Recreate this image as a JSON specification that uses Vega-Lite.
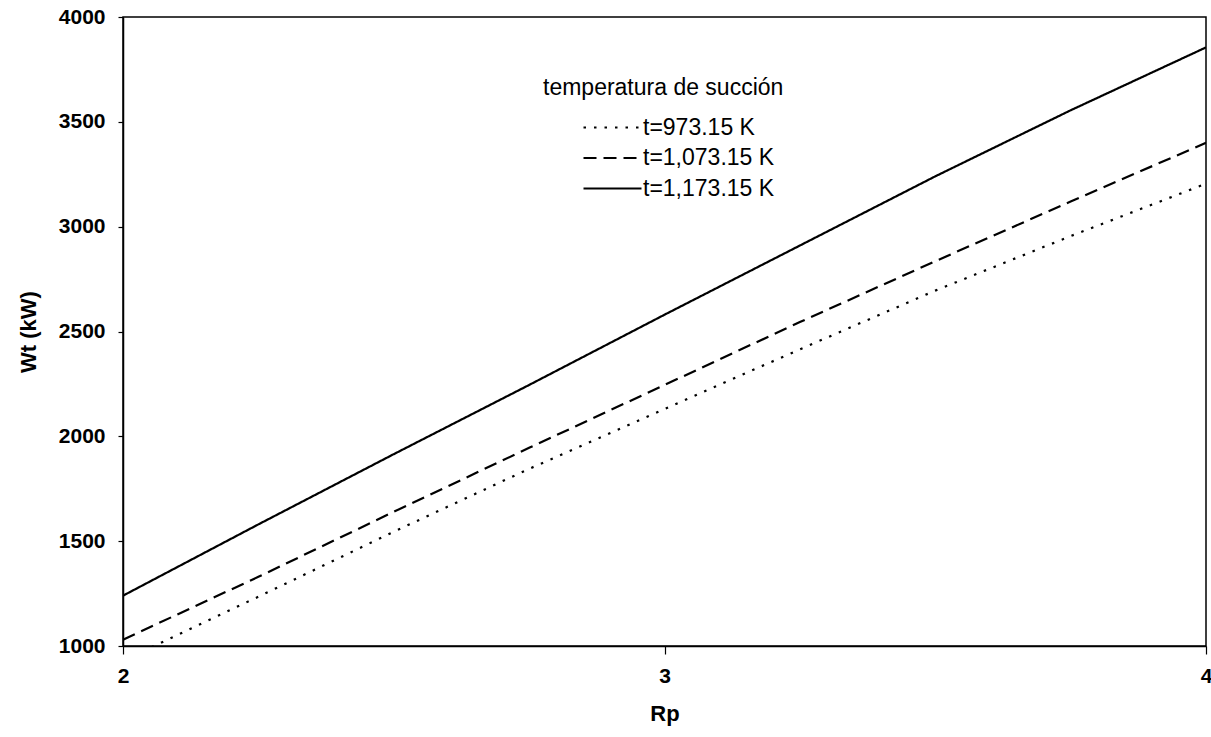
{
  "$schema": "https://vega.github.io/schema/vega-lite/v6.json",
  "autosize": {"type": "none"},
  "padding": {"left": 123, "top": 17, "right": 5, "bottom": 91},
  "width": 1083,
  "height": 629,
  "background": "white",
  "view": {"stroke": "black", "strokeWidth": 1.5},
  "config": {
    "font": "Liberation Sans",
    "axis": {"grid": false, "domainColor": "black", "domainWidth": 1.5, "tickColor": "black", "tickWidth": 1.2, "labelColor": "black", "titleColor": "black", "labelFont": "Liberation Sans", "titleFont": "Liberation Sans", "labelFontWeight": "bold", "titleFontWeight": "bold", "labelFontSize": 21, "titleFontSize": 22, "labelOverlap": false}
  },
  "data": {
    "values": [
      {"Rp": 2.0, "Wt": 930, "serie": "t=973.15 K"},
      {"Rp": 2.25, "Wt": 1235, "serie": "t=973.15 K"},
      {"Rp": 2.5, "Wt": 1545, "serie": "t=973.15 K"},
      {"Rp": 2.75, "Wt": 1845, "serie": "t=973.15 K"},
      {"Rp": 3.0, "Wt": 2130, "serie": "t=973.15 K"},
      {"Rp": 3.25, "Wt": 2415, "serie": "t=973.15 K"},
      {"Rp": 3.5, "Wt": 2695, "serie": "t=973.15 K"},
      {"Rp": 3.75, "Wt": 2955, "serie": "t=973.15 K"},
      {"Rp": 4.0, "Wt": 3205, "serie": "t=973.15 K"},
      {"Rp": 2.0, "Wt": 1030, "serie": "t=1,073.15 K"},
      {"Rp": 2.25, "Wt": 1330, "serie": "t=1,073.15 K"},
      {"Rp": 2.5, "Wt": 1640, "serie": "t=1,073.15 K"},
      {"Rp": 2.75, "Wt": 1945, "serie": "t=1,073.15 K"},
      {"Rp": 3.0, "Wt": 2245, "serie": "t=1,073.15 K"},
      {"Rp": 3.25, "Wt": 2545, "serie": "t=1,073.15 K"},
      {"Rp": 3.5, "Wt": 2835, "serie": "t=1,073.15 K"},
      {"Rp": 3.75, "Wt": 3120, "serie": "t=1,073.15 K"},
      {"Rp": 4.0, "Wt": 3400, "serie": "t=1,073.15 K"},
      {"Rp": 2.0, "Wt": 1240, "serie": "t=1,173.15 K"},
      {"Rp": 2.25, "Wt": 1580, "serie": "t=1,173.15 K"},
      {"Rp": 2.5, "Wt": 1915, "serie": "t=1,173.15 K"},
      {"Rp": 2.75, "Wt": 2245, "serie": "t=1,173.15 K"},
      {"Rp": 3.0, "Wt": 2580, "serie": "t=1,173.15 K"},
      {"Rp": 3.25, "Wt": 2910, "serie": "t=1,173.15 K"},
      {"Rp": 3.5, "Wt": 3240, "serie": "t=1,173.15 K"},
      {"Rp": 3.75, "Wt": 3555, "serie": "t=1,173.15 K"},
      {"Rp": 4.0, "Wt": 3855, "serie": "t=1,173.15 K"}
    ]
  },
  "mark": {"type": "line", "clip": true, "color": "black", "strokeWidth": 2.2, "strokeCap": "butt"},
  "encoding": {
    "x": {
      "field": "Rp", "type": "quantitative",
      "scale": {"domain": [2, 4], "nice": false, "zero": false},
      "axis": {"title": "Rp", "values": [2, 3, 4], "tickCount": 3, "format": ".0f", "tickSize": 8, "labelPadding": 11, "titlePadding": 17, "labelFlush": false, "labelBound": false}
    },
    "y": {
      "field": "Wt", "type": "quantitative",
      "scale": {"domain": [1000, 4000], "nice": false, "zero": false},
      "axis": {"title": "Wt (kW)", "values": [1000, 1500, 2000, 2500, 3000, 3500, 4000], "format": "d", "tickSize": 5, "labelPadding": 13, "titlePadding": 18}
    },
    "strokeDash": {
      "field": "serie", "type": "nominal",
      "scale": {"domain": ["t=973.15 K", "t=1,073.15 K", "t=1,173.15 K"], "range": [[2.5, 8], [13, 7], [1, 0]]},
      "legend": {
        "title": "temperatura de succión",
        "orient": "none",
        "legendX": 420,
        "legendY": 60,
        "padding": 0,
        "titleFont": "Liberation Sans",
        "titleFontSize": 23,
        "titleFontWeight": "normal",
        "titleColor": "black",
        "titlePadding": 16,
        "titleAnchor": "start",
        "titleLimit": 600,
        "labelFont": "Liberation Sans",
        "labelFontSize": 23,
        "labelColor": "black",
        "labelOffset": 77,
        "labelLimit": 400,
        "rowPadding": 6.5,
        "symbolType": "M2.9,0H8.7",
        "symbolSize": 400,
        "symbolStrokeColor": "black",
        "symbolFillColor": "transparent",
        "symbolStrokeWidth": 2.2
      }
    }
  }
}
